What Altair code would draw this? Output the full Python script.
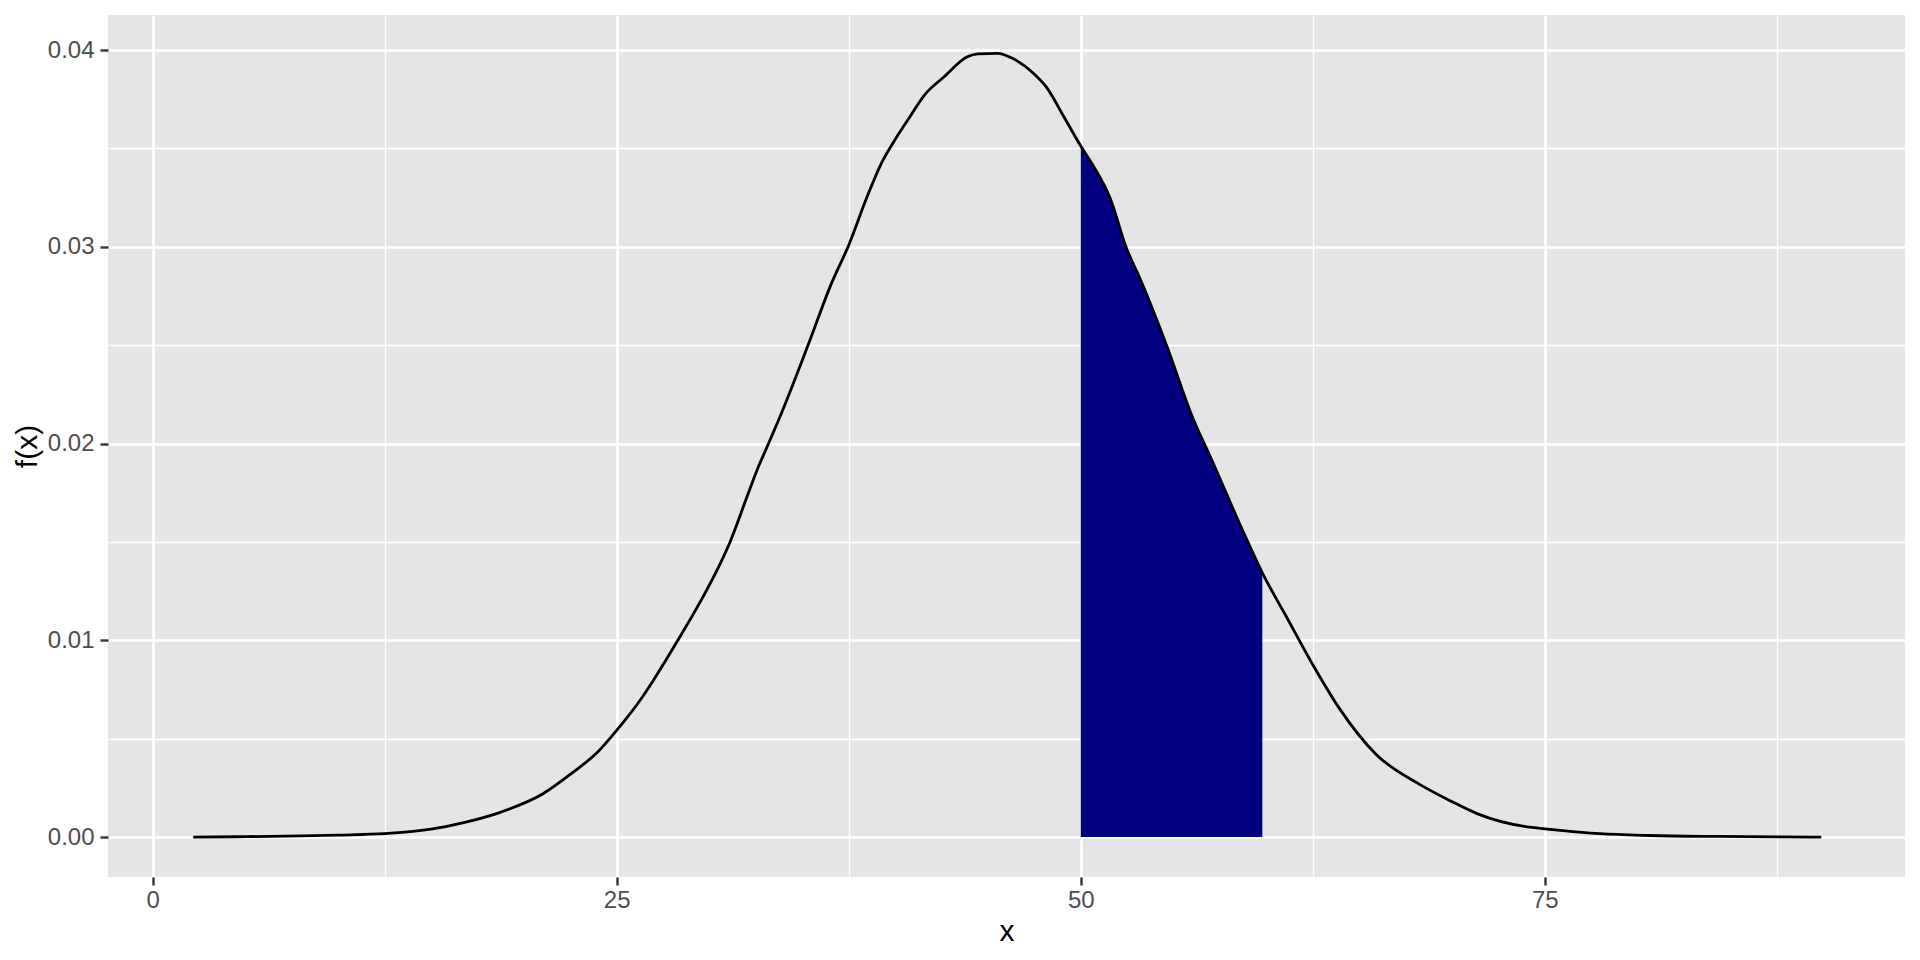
import altair as alt
import pandas as pd

# density curve
xs = [2.19, 5, 8, 10, 12.5, 15, 16.88, 18.77, 21.03, 22.55, 24.06, 25.0, 26.32,
      27.0, 28.24, 29.5, 30.58, 31.11, 32.02, 32.56, 33.18, 33.87, 35.41, 36.57,
      37.5, 38.49, 39.26, 39.93, 40.80, 41.58, 42.64, 43.89, 44.47, 45.53, 46.2,
      47.55, 48.13, 49.09, 50.0, 50.68, 51.58, 52.47, 53.19, 54.62, 56.05, 56.95,
      58.74, 59.78, 61.07, 62.5, 63.93, 65.90, 68.23, 69.89, 71.38, 74.19, 75,
      77.96, 80.65, 84.24, 89.89]
ys = [0.0, 0.00002, 0.00006, 0.0001, 0.00017, 0.0004, 0.00076, 0.00127, 0.0022,
      0.00322, 0.0044, 0.00542, 0.00703, 0.00800, 0.00991, 0.01195, 0.0139,
      0.0150, 0.01729, 0.01864, 0.0200, 0.02153, 0.02525, 0.02814, 0.03008,
      0.03254, 0.03424, 0.03534, 0.03661, 0.03771, 0.03864, 0.03966, 0.0398,
      0.03983, 0.03963, 0.03873, 0.03814, 0.03661, 0.03512, 0.03411, 0.03248,
      0.02991, 0.02839, 0.025, 0.02126, 0.01939, 0.01554, 0.01343, 0.01121,
      0.00876, 0.00654, 0.00421, 0.00269, 0.00185, 0.00118, 0.0005, 0.00042,
      0.00017, 0.00008, 0.00003, 0.0]

shade_from = 50
shade_to = 59.8

x_ticks = [0, 12.5, 25, 37.5, 50, 62.5, 75, 87.5]
y_ticks = [0, 0.005, 0.01, 0.015, 0.02, 0.025, 0.03, 0.035, 0.04]

df = pd.DataFrame({"x": xs, "y": ys})
shade = df[(df.x >= shade_from) & (df.x <= shade_to)].copy()

FONT = "Liberation Sans"
x_major = "datum.value % 25 === 0"
y_major = "round(datum.value * 1000) % 10 === 0"

x_axis = alt.Axis(
    values=x_ticks, title="x", grid=True, gridColor="white",
    gridWidth={"condition": {"test": x_major, "value": 2.6}, "value": 1.3},
    tickOpacity={"condition": {"test": x_major, "value": 1}, "value": 0},
    labelExpr=f"{x_major} ? format(datum.value, 'd') : ''",
    domain=False, tickSize=8, tickWidth=2.4, tickColor="#333333",
    labelFont=FONT, labelFontSize=24, labelColor="#4D4D4D", labelPadding=3,
    titleFont=FONT, titleFontSize=30, titleFontWeight="normal", titleColor="black",
    titlePadding=4, labelOverlap=False, labelFlush=False,
)
y_axis = alt.Axis(
    values=y_ticks, title="f(x)", grid=True, gridColor="white",
    gridWidth={"condition": {"test": y_major, "value": 2.6}, "value": 1.3},
    tickOpacity={"condition": {"test": y_major, "value": 1}, "value": 0},
    labelExpr=f"{y_major} ? format(datum.value, '.2f') : ''",
    domain=False, tickSize=8, tickWidth=2.4, tickColor="#333333",
    labelFont=FONT, labelFontSize=24, labelColor="#4D4D4D", labelPadding=6,
    titleFont=FONT, titleFontSize=30, titleFontWeight="normal", titleColor="black",
    titlePadding=5, labelOverlap=False, labelFlush=False,
)

xscale = alt.Scale(domain=[-2.4, 94.4], nice=False, zero=False)
yscale = alt.Scale(domain=[-0.00203, 0.04178], nice=False, zero=False)

area = alt.Chart(shade).mark_area(color="#000080", opacity=1, interpolate="monotone").encode(
    x=alt.X("x:Q", scale=xscale, axis=x_axis),
    y=alt.Y("y:Q", scale=yscale, axis=y_axis, stack=None),
    y2=alt.datum(0),
)
line = alt.Chart(df).mark_line(color="black", strokeWidth=2.8, interpolate="monotone").encode(
    x=alt.X("x:Q", scale=xscale, axis=x_axis),
    y=alt.Y("y:Q", scale=yscale, axis=y_axis),
)

chart = alt.layer(area, line).properties(
    width=1797, height=862,
    autosize=alt.AutoSizeParams(type="none"),
    padding={"left": 100, "top": 7, "right": 7, "bottom": 75},
    background="white",
).configure_view(fill="#E5E5E5", stroke=None)

chart.save("out.html", embed_options={"renderer": "svg", "actions": False})
